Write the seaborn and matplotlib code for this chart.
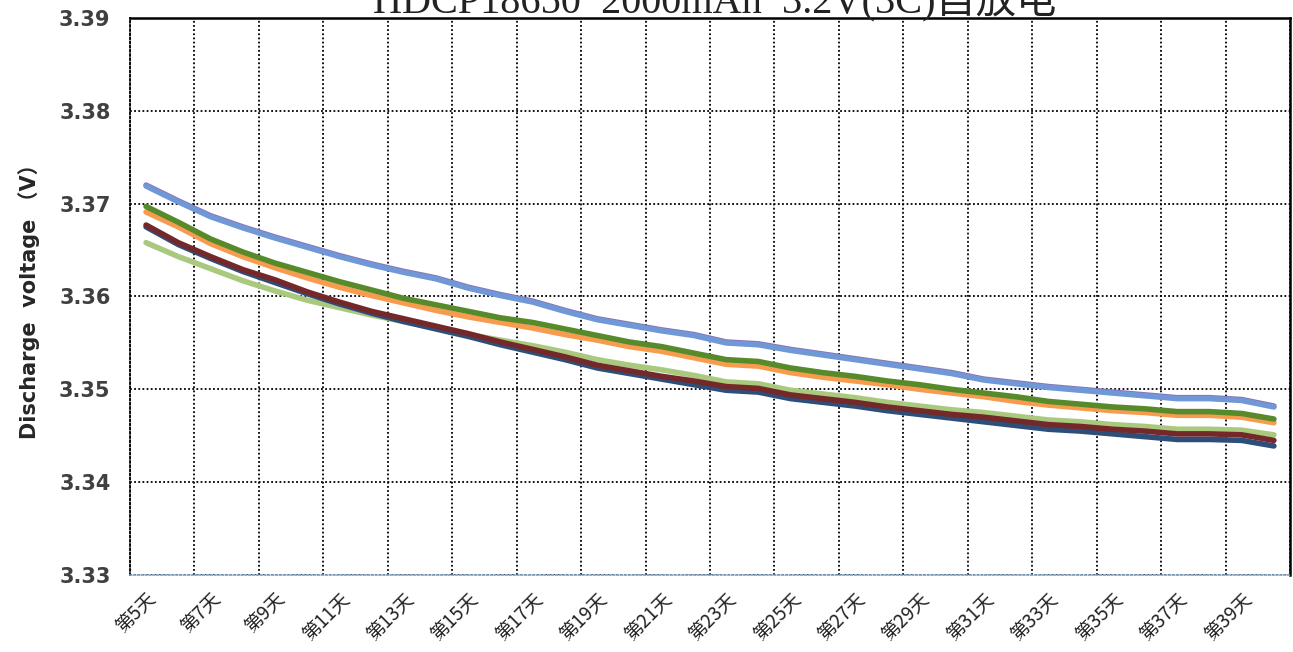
import matplotlib
matplotlib.use('Agg')
import matplotlib.pyplot as plt
import numpy as np
import pandas as pd
import seaborn as sns

# 第5天 ... 第40天
days = list(range(5, 41))
day_labels = ['第%d天' % d for d in days]

purple = [3.3720, 3.3703, 3.3687, 3.3675, 3.3664, 3.3654, 3.3644, 3.3635, 3.3627, 3.3620,
          3.3610, 3.3602, 3.3595, 3.3585, 3.3576, 3.3570, 3.3564, 3.3559, 3.3551, 3.3549,
          3.3543, 3.3538, 3.3533, 3.3528, 3.3523, 3.3518, 3.3511, 3.3507, 3.3503, 3.3500,
          3.3497, 3.3494, 3.3491, 3.3491, 3.3489, 3.3482]
blue = [3.3719, 3.3702, 3.3686, 3.3674, 3.3663, 3.3653, 3.3643, 3.3634, 3.3626, 3.3619,
        3.3609, 3.3601, 3.3594, 3.3584, 3.3575, 3.3569, 3.3563, 3.3558, 3.3550, 3.3548,
        3.3542, 3.3537, 3.3532, 3.3527, 3.3522, 3.3517, 3.3510, 3.3506, 3.3502, 3.3499,
        3.3496, 3.3493, 3.3490, 3.3490, 3.3488, 3.3481]
green = [3.3697, 3.3680, 3.3662, 3.3648, 3.3636, 3.3626, 3.3616, 3.3607, 3.3598, 3.3591,
         3.3584, 3.3577, 3.3572, 3.3565, 3.3558, 3.3551, 3.3546, 3.3539, 3.3532, 3.3530,
         3.3523, 3.3518, 3.3514, 3.3509, 3.3505, 3.3500, 3.3496, 3.3492, 3.3487, 3.3484,
         3.3481, 3.3479, 3.3476, 3.3476, 3.3474, 3.3468]
orange = [3.3691, 3.3675, 3.3657, 3.3643, 3.3631, 3.3620, 3.3610, 3.3601, 3.3593, 3.3585,
          3.3578, 3.3572, 3.3566, 3.3559, 3.3553, 3.3546, 3.3541, 3.3534, 3.3527, 3.3525,
          3.3518, 3.3513, 3.3509, 3.3505, 3.3500, 3.3496, 3.3492, 3.3487, 3.3483, 3.3480,
          3.3477, 3.3475, 3.3472, 3.3472, 3.3470, 3.3464]
light_green = [3.3658, 3.3643, 3.3630, 3.3617, 3.3606, 3.3596, 3.3588, 3.3580, 3.3573, 3.3566,
               3.3559, 3.3553, 3.3547, 3.3540, 3.3532, 3.3526, 3.3521, 3.3515, 3.3508, 3.3506,
               3.3499, 3.3495, 3.3491, 3.3486, 3.3482, 3.3478, 3.3475, 3.3471, 3.3467, 3.3465,
               3.3462, 3.3460, 3.3457, 3.3457, 3.3456, 3.3451]
navy = [3.3675, 3.3656, 3.3641, 3.3627, 3.3615, 3.3603, 3.3592, 3.3582, 3.3573, 3.3565,
        3.3557, 3.3548, 3.3540, 3.3532, 3.3523, 3.3517, 3.3511, 3.3505, 3.3499, 3.3497,
        3.3490, 3.3486, 3.3482, 3.3477, 3.3473, 3.3469, 3.3465, 3.3461, 3.3457, 3.3455,
        3.3452, 3.3449, 3.3446, 3.3446, 3.3445, 3.3439]
maroon = [3.3677, 3.3658, 3.3643, 3.3629, 3.3618, 3.3605, 3.3594, 3.3584, 3.3576, 3.3568,
          3.3560, 3.3551, 3.3543, 3.3535, 3.3526, 3.3520, 3.3514, 3.3509, 3.3503, 3.3501,
          3.3494, 3.3490, 3.3486, 3.3481, 3.3477, 3.3473, 3.3470, 3.3466, 3.3462, 3.3460,
          3.3457, 3.3455, 3.3452, 3.3452, 3.3451, 3.3445]

series = {'purple': purple, 'blue': blue, 'light_green': light_green, 'orange': orange,
          'green': green, 'navy': navy, 'maroon': maroon}
colors = {'purple': '#8A72B8', 'blue': '#7098D6', 'light_green': '#A9CA7E', 'orange': '#F79C4E',
          'green': '#568A2A', 'navy': '#2E4E7A', 'maroon': '#74282A'}

df = pd.DataFrame(series)
df['idx'] = np.arange(len(days))
long = df.melt(id_vars='idx', var_name='cell', value_name='v')

sns.set_style('white')
plt.rcParams['font.family'] = ['DejaVu Sans', 'Noto Sans CJK SC']

fig = plt.figure(figsize=(12.93, 6.52), dpi=100)
ax = fig.add_axes([0.1005, 0.1181, 0.8972, 0.8543])

sns.lineplot(data=long, x='idx', y='v', hue='cell', palette=colors,
             hue_order=list(series.keys()), linewidth=4.0, legend=False, ax=ax)

ax.set_xlim(-0.5, len(days) - 0.5)
ax.set_ylim(3.33, 3.39)
yt = np.round(np.arange(3.33, 3.3901, 0.01), 2)
ax.set_yticks(yt)
ax.set_yticklabels(['%.2f' % v for v in yt], fontsize=15, fontweight='bold', color='#404040')
ax.set_xticks(np.arange(0, len(days), 2))
ax.set_xticklabels(day_labels[::2], rotation=45, ha='right', rotation_mode='anchor',
                   fontsize=13.5, color='#222222', family=['Noto Sans CJK SC'])
ax.set_xticks(np.arange(-0.5, len(days), 2), minor=True)
ax.tick_params(axis='x', which='major', length=0, pad=10)
ax.tick_params(axis='y', length=0, pad=14)
ax.tick_params(which='minor', length=0)

dots = (0, (1, 1.3))
ax.grid(True, which='minor', axis='x', color='black', linestyle=dots, linewidth=1.3)
ax.grid(True, which='major', axis='y', color='black', linestyle=dots, linewidth=1.3)
ax.grid(False, which='major', axis='x')

ax.spines['top'].set_color('black')
ax.spines['top'].set_linewidth(1.8)
ax.spines['right'].set_color('black')
ax.spines['right'].set_linewidth(1.8)
ax.spines['left'].set_color('black')
ax.spines['left'].set_linestyle(dots)
ax.spines['left'].set_linewidth(1.3)
ax.spines['bottom'].set_color('#7F9FBF')
ax.spines['bottom'].set_linestyle(dots)
ax.spines['bottom'].set_linewidth(1.2)

ax.set_xlabel('')
ax.set_ylabel('Discharge  voltage （V）', fontsize=15, fontweight='bold', labelpad=14)

# title sits partly above the top edge, as in the source image
fig.text(0.553, 0.980, 'HDCP18650  2000mAh  3.2V(3C)自放电', ha='center', va='baseline',
         fontsize=29, color='#222222', family=['Liberation Serif', 'Noto Sans CJK SC'])

fig.savefig('out.png', dpi=100)
